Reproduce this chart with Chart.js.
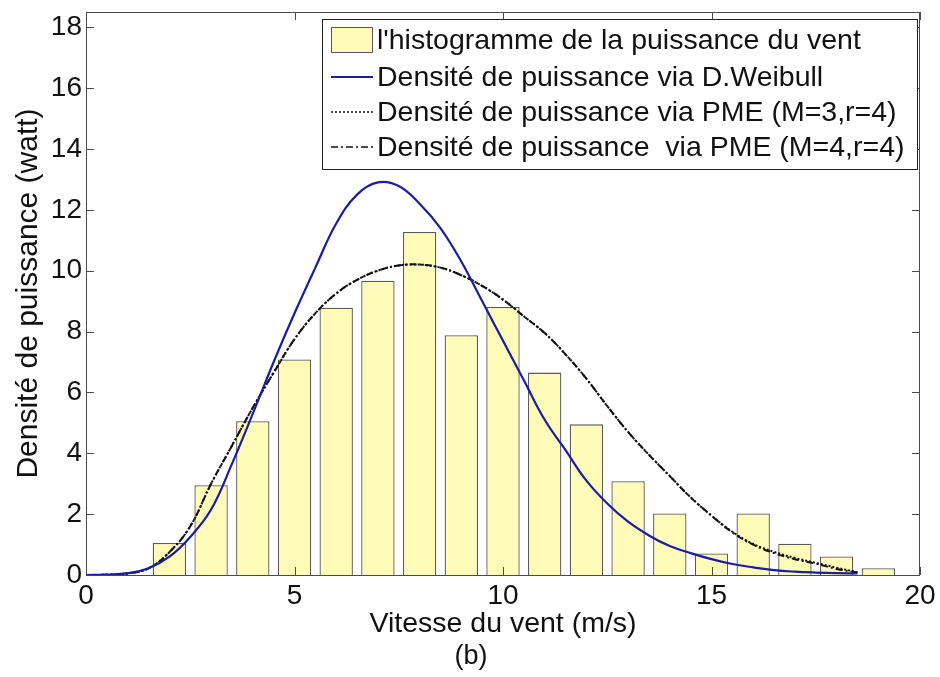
<!DOCTYPE html>
<html>
<head>
<meta charset="utf-8">
<title>Densité de puissance</title>
<script src="https://cdn.jsdelivr.net/npm/chart.js@4.4.1/dist/chart.umd.min.js"></script>
<style>
  body { margin: 0; background: #fff; }
  #wrap { width: 940px; height: 677px; }
</style>
</head>
<body>
<div id="wrap"><canvas id="myGraf" width="940" height="677"></canvas></div>
<script>
// histogramme : centres des classes (m/s) et hauteurs
var binCenters = [2, 3, 4, 5, 6, 7, 8, 9, 10, 11, 12, 13, 14, 15, 16, 17, 18, 19];
var histValues = [1.05, 2.95, 5.05, 7.08, 8.78, 9.67, 11.27, 7.88, 8.81, 6.65, 4.95, 3.08, 2.02, 0.71, 2.02, 1.03, 0.61, 0.22];

// grille de vitesse pour les courbes
var windSpeed = [0, 0.5, 1, 1.5, 2, 2.5, 3, 3.5, 4, 4.5, 5, 5.5, 6, 6.5, 7, 7.5, 8, 8.5, 9, 9.5,
                 10, 10.5, 11, 11.5, 12, 12.5, 13, 13.5, 14, 14.5, 15, 15.5, 16, 16.5, 17, 17.5, 18, 18.5];
var weibullDensity = [0, 0.01, 0.06, 0.22, 0.6, 1.25, 2.15, 3.65, 5.3, 7.0, 8.6, 10.1, 11.55, 12.5, 12.9, 12.78, 12.2, 11.4, 10.3, 9.0,
                      7.7, 6.4, 5.1, 4.1, 3.1, 2.35, 1.75, 1.3, 0.95, 0.72, 0.52, 0.36, 0.25, 0.16, 0.11, 0.08, 0.06, 0.05];
var pme3Density = [0, 0.01, 0.05, 0.22, 0.75, 1.6, 3.0, 4.25, 5.5, 6.65, 7.75, 8.6, 9.25, 9.7, 10.0, 10.17, 10.2, 10.1, 9.85, 9.5,
                   9.05, 8.5, 7.95, 7.25, 6.45, 5.55, 4.7, 3.95, 3.25, 2.55, 1.95, 1.42, 1.02, 0.76, 0.56, 0.4, 0.24, 0.09];
var pme4Density = [0, 0.01, 0.05, 0.22, 0.75, 1.6, 3.0, 4.25, 5.5, 6.65, 7.75, 8.6, 9.25, 9.7, 10.0, 10.17, 10.2, 10.1, 9.85, 9.5,
                   9.05, 8.5, 7.95, 7.25, 6.45, 5.55, 4.7, 3.95, 3.25, 2.55, 1.95, 1.4, 1.0, 0.72, 0.52, 0.37, 0.2, 0.08];

var xTicks = [0, 5, 10, 15, 20];
var yTicks = [0, 2, 4, 6, 8, 10, 12, 14, 16, 18];

var legendLabels = [
    "l'histogramme de la puissance du vent",
    "Densité de puissance via D.Weibull",
    "Densité de puissance via PME (M=3,r=4)",
    "Densité de puissance  via PME (M=4,r=4)"
];

var fontFamily = '"Liberation Sans", Arial, sans-serif';
var boxColor = '#4a4a4a';

function toPoints(xs, ys) {
    return xs.map(function(x, i) { return { x: x, y: ys[i] }; });
}

// cadre façon matlab : bordure + graduations vers l'intérieur, légende, (b)
var matlabBox = {
    id: 'matlabBox',
    afterDatasetsDraw: function(chart) {
        var ctx = chart.ctx;
        var a = chart.chartArea;
        var xs = chart.scales.x, ys = chart.scales.y;
        var tick = 8;
        ctx.save();
        ctx.strokeStyle = boxColor;
        ctx.lineWidth = 1;
        ctx.strokeRect(a.left + 0.5, a.top + 0.5, a.right - a.left - 1, a.bottom - a.top);
        ctx.beginPath();
        yTicks.forEach(function(v) {
            var py = Math.round(ys.getPixelForValue(v)) + 0.5;
            ctx.moveTo(a.left, py); ctx.lineTo(a.left + tick, py);
            ctx.moveTo(a.right, py); ctx.lineTo(a.right - tick, py);
        });
        xTicks.forEach(function(v) {
            var px = Math.round(xs.getPixelForValue(v)) + 0.5;
            ctx.moveTo(px, a.bottom); ctx.lineTo(px, a.bottom - tick);
            ctx.moveTo(px, a.top); ctx.lineTo(px, a.top + tick);
        });
        ctx.stroke();

        // légende
        var lx = 322, ly = 19, lw = 595, lh = 150;
        ctx.fillStyle = '#fff';
        ctx.fillRect(lx, ly, lw, lh);
        ctx.strokeStyle = '#222';
        ctx.strokeRect(lx + 0.5, ly + 0.5, lw, lh);
        var rows = [40, 77, 112, 147];
        var ds = chart.data.datasets;
        ctx.font = '28.5px ' + fontFamily;
        ctx.textBaseline = 'middle';
        ctx.textAlign = 'left';
        rows.forEach(function(ry, i) {
            var d = ds[i];
            if (i === 0) {
                ctx.fillStyle = d.backgroundColor;
                ctx.fillRect(331, ry - 13, 42, 26);
                ctx.strokeStyle = d.borderColor;
                ctx.setLineDash([]);
                ctx.lineWidth = 1;
                ctx.strokeRect(331.5, ry - 12.5, 41, 25);
            } else {
                ctx.strokeStyle = d.borderColor;
                ctx.lineWidth = i === 1 ? 2 : 1.5;
                ctx.setLineDash(d.borderDash || []);
                ctx.beginPath();
                ctx.moveTo(331, ry);
                ctx.lineTo(373, ry);
                ctx.stroke();
                ctx.setLineDash([]);
            }
            ctx.fillStyle = '#111';
            ctx.fillText(legendLabels[i], 377, ry + 1);
        });

        ctx.font = '27px ' + fontFamily;
        ctx.textAlign = 'center';
        ctx.fillStyle = '#111';
        ctx.fillText('(b)', 471, 657);
        ctx.restore();
    }
};

var ctx = document.getElementById('myGraf').getContext('2d');

var data = {
    datasets: [{
        type: 'bar',
        label: legendLabels[0],
        data: toPoints(binCenters, histValues),
        backgroundColor: '#fffbb8',
        borderColor: '#5a5a5a',
        borderWidth: 1.3,
        barPercentage: 0.8,
        categoryPercentage: 1.0,
        order: 4
    }, {
        type: 'line',
        label: legendLabels[1],
        data: toPoints(windSpeed, weibullDensity),
        borderColor: '#1c1ca0',
        borderWidth: 2.2,
        pointRadius: 0,
        tension: 0.4,
        order: 0
    }, {
        type: 'line',
        label: legendLabels[2],
        data: toPoints(windSpeed, pme3Density),
        borderColor: '#111',
        borderWidth: 2,
        borderDash: [2, 2],
        pointRadius: 0,
        tension: 0.4,
        order: 2
    }, {
        type: 'line',
        label: legendLabels[3],
        data: toPoints(windSpeed, pme4Density),
        borderColor: '#111',
        borderWidth: 2,
        borderDash: [7, 3, 2, 3],
        pointRadius: 0,
        tension: 0.4,
        order: 1
    }]
};

var options = {
    responsive: false,
    animation: false,
    layout: { padding: { left: 0, right: 20, top: 12, bottom: 0 } },
    plugins: {
        legend: { display: false },
        tooltip: { enabled: false }
    },
    scales: {
        x: {
            type: 'linear',
            min: 0,
            max: 20,
            offset: false,
            grid: { display: false, drawTicks: false, offset: false },
            border: { display: false },
            ticks: { stepSize: 5, padding: 4, color: '#111', font: { size: 28, family: fontFamily } },
            title: { display: true, text: 'Vitesse du vent (m/s)', color: '#111', font: { size: 28.5, family: fontFamily }, padding: { top: 0, bottom: 36 } },
            afterFit: function(scale) {
                scale.height = 102;
                scale.paddingLeft = 0;
                scale.paddingRight = 0;
            }
        },
        y: {
            type: 'linear',
            min: 0,
            max: 18.5,
            grid: { display: false, drawTicks: false },
            border: { display: false },
            ticks: { stepSize: 2, includeBounds: false, padding: 4, color: '#111', font: { size: 28, family: fontFamily } },
            title: { display: true, text: 'Densité de puissance (watt)', color: '#111', font: { size: 30, family: fontFamily }, padding: { top: 11, bottom: 0 } },
            afterFit: function(scale) {
                scale.width = 86;
                scale.paddingTop = 0;
                scale.paddingBottom = 0;
            }
        }
    }
};

var myGraf = new Chart(ctx, {
    type: 'bar',
    data: data,
    options: options,
    plugins: [matlabBox]
});
</script>
</body>
</html>
